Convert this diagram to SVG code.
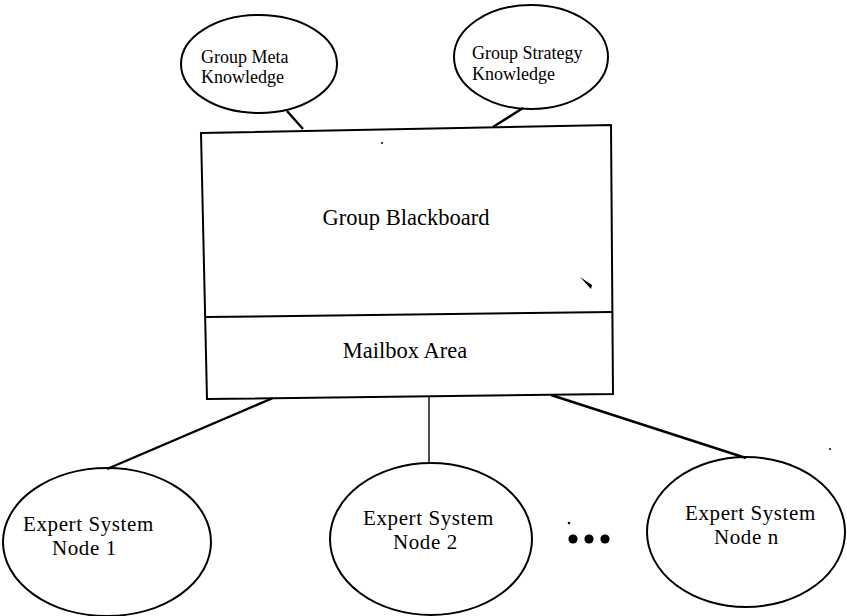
<svg xmlns="http://www.w3.org/2000/svg" width="847" height="616" viewBox="0 0 847 616">
<style>
.s{fill:none;stroke:#000;stroke-width:2}
.l{fill:none;stroke:#000;stroke-width:2.4}
.t{font-family:"Liberation Serif","Times New Roman",serif;fill:#000}
.sm{font-size:18px}
.md{font-size:22.5px}
.bt{font-size:21px;letter-spacing:0.6px}
</style>
<rect width="847" height="616" fill="#fff"/>
<g id="connectors">
<line class="l" x1="287" y1="111" x2="303" y2="129"/>
<line class="l" x1="523" y1="108" x2="493" y2="127"/>
<line class="l" x1="273" y1="398" x2="107" y2="469"/>
<line x1="429" y1="397" x2="429" y2="464" stroke="#000" stroke-width="1.4"/>
<line class="l" x1="551" y1="395" x2="746" y2="458"/>
</g>
<g id="meta">
<ellipse class="s" cx="259" cy="64" rx="78" ry="49"/>
<text class="t sm" x="201" y="62.5">Group Meta</text>
<text class="t sm" x="201" y="83">Knowledge</text>
</g>
<g id="strategy">
<ellipse class="s" cx="531" cy="57" rx="77" ry="52"/>
<text class="t sm" x="472" y="59">Group Strategy</text>
<text class="t sm" x="472" y="79.5">Knowledge</text>
</g>
<g id="blackboard">
<polygon class="s" points="201,133 611,125 613,394 207,399"/>
<line class="s" x1="206" y1="317" x2="612" y2="312"/>
<text class="t md" x="406" y="225" text-anchor="middle">Group Blackboard</text>
<text class="t md" x="405" y="358" text-anchor="middle">Mailbox Area</text>
<circle cx="382" cy="143" r="1" fill="#000"/>
<path d="M580,277 L592,285 L591,289 Z" fill="#000"/>
</g>
<g id="node1">
<ellipse class="s" cx="107" cy="542" rx="104" ry="74"/>
<text class="t bt" x="23" y="530.5">Expert System</text>
<text class="t bt" x="52" y="554.5">Node 1</text>
</g>
<g id="node2">
<ellipse class="s" cx="431" cy="539" rx="101" ry="76"/>
<text class="t bt" x="363" y="524.5">Expert System</text>
<text class="t bt" x="393" y="548.5">Node 2</text>
</g>
<g id="noden">
<ellipse class="s" cx="746" cy="532" rx="99" ry="75"/>
<text class="t bt" x="685" y="520">Expert System</text>
<text class="t bt" x="714" y="544">Node n</text>
</g>
<g id="ellipsis">
<circle cx="573" cy="539" r="4.6" fill="#000"/>
<circle cx="589" cy="539" r="4.6" fill="#000"/>
<circle cx="605" cy="539" r="4.6" fill="#000"/>
<circle cx="569" cy="523" r="1.3" fill="#000"/>
<circle cx="830" cy="449" r="1" fill="#000"/>
</g>
</svg>
